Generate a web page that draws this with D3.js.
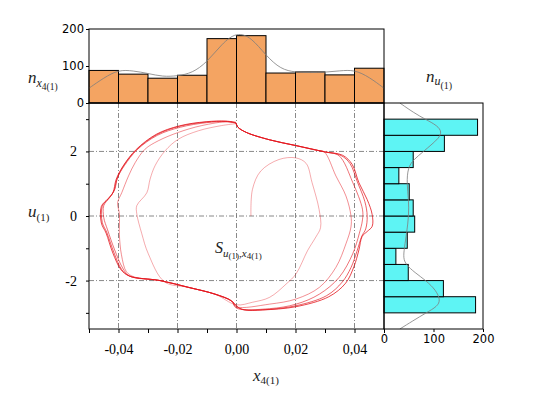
<!DOCTYPE html>
<html>
<head>
<meta charset="utf-8">
<script src="https://cdn.jsdelivr.net/npm/d3@7"></script>
<style>
  body { margin: 0; background: #fff; }
  .serif { font-family: "Liberation Serif", "Times New Roman", serif; }
  .sans { font-family: "DejaVu Sans", Verdana, sans-serif; }
</style>
</head>
<body>
<div id="chart"></div>
<script>
// ---- data ----
const xBinEdges = [-0.05, -0.04, -0.03, -0.02, -0.01, 0, 0.01, 0.02, 0.03, 0.04, 0.05];
const xCounts = [88, 78, 67, 75, 174, 182, 81, 84, 76, 94];
const xDensity = [[-0.05, 40], [-0.045, 68], [-0.04, 90], [-0.035, 87], [-0.03, 80], [-0.025, 71],
  [-0.02, 73], [-0.015, 81], [-0.01, 110], [-0.005, 160], [0, 192], [0.005, 178], [0.01, 128],
  [0.015, 91], [0.02, 83], [0.025, 82], [0.03, 83], [0.035, 87], [0.04, 90], [0.045, 70], [0.05, 40]];

const uBinEdges = [-3, -2.5, -2, -1.5, -1, -0.5, 0, 0.5, 1, 1.5, 2, 2.5, 3];
const uCounts = [185, 120, 49, 24, 47, 62, 59, 51, 30, 59, 122, 189];
const uDensity = [[3.5, 32], [3.2, 60], [3.0, 83], [2.8, 108], [2.6, 117], [2.4, 110], [2.2, 95],
  [2.0, 80], [1.75, 60], [1.5, 48], [1.0, 46], [0.5, 50], [0, 50], [-0.5, 46], [-1.0, 41],
  [-1.3, 39], [-1.5, 44], [-1.75, 62], [-2.0, 85], [-2.3, 105], [-2.6, 114], [-2.8, 108],
  [-3.0, 85], [-3.25, 58], [-3.5, 32]];

const xTicks = [-0.05, -0.04, -0.03, -0.02, -0.01, 0, 0.01, 0.02, 0.03, 0.04, 0.05];
const xTickLabels = [-0.04, -0.02, 0, 0.02, 0.04];
const uTicks = [-3, -2, -1, 0, 1, 2, 3];
const uTickLabels = [-2, 0, 2];
const histTicks = [0, 100, 200];

// trajectory in (x4(1), u(1)), one array per turn, spiralling outwards
const loop0 = [[0.0049, 0], [0.0054, 0.82], [0.0082, 1.39], [0.0144, 1.75], [0.0201, 1.80],
  [0.0236, 1.63], [0.0256, 1.04], [0.028, 0.20], [0.0285, -0.36], [0.0269, -0.65], [0.0241, -1.07],
  [0.0202, -1.79], [0.0168, -2.11], [0.0112, -2.52], [0.0055, -2.67], [-0.0001, -2.75],
  [-0.0073, -2.42], [-0.0163, -2.21], [-0.0244, -2.04], [-0.0299, -1.17], [-0.0321, -0.55],
  [-0.0338, 0.07], [-0.0338, 0.32], [-0.0304, 0.72], [-0.0293, 1.14], [-0.0276, 1.56],
  [-0.0242, 2.02], [-0.0197, 2.38], [-0.0129, 2.64], [-0.0051, 2.80], [-0.0002, 2.86]];
const loop1 = [[-0.0002, 2.86], [0.0005, 2.75], [0.0033, 2.59], [0.0112, 2.36], [0.0202, 2.18],
  [0.0273, 2.03], [0.0297, 1.99], [0.0337, 1.24], [0.0371, 0.62], [0.0388, 0.01], [0.0388, -0.34],
  [0.0371, -0.86], [0.0337, -1.59], [0.0281, -2.21], [0.0202, -2.57], [0.0112, -2.73],
  [-0.0001, -2.81], [-0.0017, -2.63], [-0.0073, -2.42], [-0.0163, -2.21], [-0.0259, -2.00],
  [-0.0346, -1.89], [-0.0373, -1.73], [-0.039, -1.20], [-0.0397, -0.58], [-0.0397, 0.07],
  [-0.0403, 0.41], [-0.0389, 0.72], [-0.0366, 1.24], [-0.0343, 1.66], [-0.031, 2.07],
  [-0.0265, 2.33], [-0.0197, 2.59], [-0.0118, 2.80], [-0.0028, 2.92], [-0.0001, 2.87]];
const loop2 = [[-0.0001, 2.87], [0.0005, 2.75], [0.0033, 2.59], [0.0112, 2.36], [0.0202, 2.18],
  [0.0297, 1.99], [0.0347, 1.87], [0.0394, 1.04], [0.0427, 0.21], [0.0427, -0.12], [0.0416, -0.55],
  [0.0394, -1.17], [0.0348, -1.90], [0.0281, -2.42], [0.0202, -2.73], [0.0112, -2.87],
  [-0.0001, -2.85], [-0.0017, -2.63], [-0.0073, -2.42], [-0.0163, -2.21], [-0.0259, -2.00],
  [-0.0363, -1.86], [-0.0386, -1.61], [-0.0413, -1.05], [-0.0437, -0.43], [-0.045, -0.05],
  [-0.045, 0.32], [-0.043, 0.57], [-0.0413, 0.82], [-0.0403, 1.19], [-0.038, 1.56],
  [-0.0336, 2.06], [-0.0268, 2.50], [-0.019, 2.75], [-0.0102, 2.89], [-0.0035, 2.92], [-0.0002, 2.88]];
const loop3 = [[-0.0002, 2.88], [0.0005, 2.75], [0.0033, 2.59], [0.0112, 2.36], [0.0202, 2.18],
  [0.0297, 1.99], [0.0355, 1.87], [0.0385, 1.62], [0.041, 1.05], [0.0435, 0.45], [0.0443, 0.0],
  [0.0438, -0.40], [0.0425, -0.62], [0.0408, -1.10], [0.0388, -1.60], [0.0358, -2.05],
  [0.0305, -2.47], [0.0201, -2.78], [0.0100, -2.90], [0.0026, -2.90], [-0.0002, -2.80],
  [-0.0017, -2.63], [-0.0073, -2.42], [-0.0163, -2.21], [-0.0259, -2.00], [-0.0363, -1.86],
  [-0.0389, -1.66], [-0.0416, -1.12], [-0.044, -0.50], [-0.0455, -0.20], [-0.0455, 0.30],
  [-0.0434, 0.54], [-0.0416, 0.76], [-0.0405, 1.15], [-0.0383, 1.55], [-0.0338, 2.06],
  [-0.027, 2.52], [-0.0192, 2.78], [-0.0103, 2.91], [-0.0036, 2.93], [-0.0002, 2.89]];
const loop4 = [[-0.0002, 2.89], [0.0005, 2.75], [0.0033, 2.59], [0.0112, 2.36], [0.0202, 2.18],
  [0.0297, 1.99], [0.036, 1.88], [0.0392, 1.60], [0.0415, 1.03], [0.0443, 0.51], [0.046, 0.04],
  [0.046, -0.32], [0.0443, -0.48], [0.0426, -0.63], [0.0415, -1.05], [0.0398, -1.57],
  [0.037, -2.08], [0.0313, -2.50], [0.0201, -2.81], [0.0088, -2.91], [0.0026, -2.91],
  [0.0006, -2.83], [-0.0002, -2.76], [-0.0017, -2.63], [-0.0073, -2.42], [-0.0163, -2.21],
  [-0.0259, -2.00], [-0.0363, -1.86], [-0.0391, -1.67], [-0.0419, -1.15], [-0.0442, -0.53],
  [-0.0458, -0.22], [-0.0458, 0.30], [-0.0436, 0.53], [-0.0419, 0.72], [-0.0408, 1.13],
  [-0.0385, 1.54], [-0.034, 2.06], [-0.0272, 2.53], [-0.0194, 2.79], [-0.0103, 2.92],
  [-0.0036, 2.94], [-0.0002, 2.90]];
const loops = [loop0, loop1, loop2, loop3, loop4];
const loopOpacity = [0.45, 0.6, 0.75, 0.85, 1];

// ---- layout ----
const W = 540, H = 398;
const main = {left: 89, right: 384, top: 103, bottom: 329};
const topH = {top: 29, bottom: 103};
const rightH = {left: 384, right: 483};

const svg = d3.select("#chart").append("svg")
  .attr("width", W).attr("height", H);

const x = d3.scaleLinear().domain([-0.05, 0.05]).range([main.left, main.right]);
const u = d3.scaleLinear().domain([-3.5, 3.5]).range([main.bottom, main.top]);
const nTop = d3.scaleLinear().domain([0, 200]).range([topH.bottom, topH.top]);
const nRight = d3.scaleLinear().domain([0, 200]).range([rightH.left, rightH.right]);

const loc = d3.formatLocale({decimal: ",", thousands: ".", grouping: [3], currency: ["", ""], minus: "-"});
const fmtX = loc.format(".2f");

const defs = svg.append("defs");
defs.append("clipPath").attr("id", "clipTop").append("rect")
  .attr("x", main.left).attr("y", topH.top)
  .attr("width", main.right - main.left).attr("height", topH.bottom - topH.top);
defs.append("clipPath").attr("id", "clipRight").append("rect")
  .attr("x", rightH.left).attr("y", main.top)
  .attr("width", rightH.right - rightH.left).attr("height", main.bottom - main.top);

// ---- grid in main plot ----
const grid = svg.append("g").attr("stroke", "#6b6b6b").attr("stroke-width", 0.8)
  .attr("stroke-dasharray", "5,2,1,2");
grid.selectAll("line.gx").data(xTickLabels).enter().append("line")
  .attr("x1", d => x(d)).attr("x2", d => x(d))
  .attr("y1", main.top).attr("y2", main.bottom);
grid.selectAll("line.gu").data(uTickLabels).enter().append("line")
  .attr("x1", main.left).attr("x2", main.right)
  .attr("y1", d => u(d)).attr("y2", d => u(d));

// ---- trajectory ----
const line = d3.line()
  .x(d => x(d[0])).y(d => u(d[1]))
  .curve(d3.curveCatmullRom.alpha(0.5));
svg.append("g").selectAll("path").data(loops).enter().append("path")
  .attr("d", line)
  .attr("fill", "none")
  .attr("stroke", "#e3141c")
  .attr("stroke-width", 0.8)
  .attr("stroke-opacity", (d, i) => loopOpacity[i]);

// ---- top histogram ----
const topG = svg.append("g");
topG.selectAll("rect").data(xCounts).enter().append("rect")
  .attr("x", (d, i) => x(xBinEdges[i]))
  .attr("width", (d, i) => x(xBinEdges[i + 1]) - x(xBinEdges[i]))
  .attr("y", d => nTop(d))
  .attr("height", d => nTop(0) - nTop(d))
  .attr("fill", "#f4a462")
  .attr("stroke", "#000").attr("stroke-width", 1);
topG.append("path")
  .datum(xDensity)
  .attr("clip-path", "url(#clipTop)")
  .attr("d", d3.line().x(d => x(d[0])).y(d => nTop(d[1])).curve(d3.curveBasis))
  .attr("fill", "none").attr("stroke", "#7d7d7d").attr("stroke-width", 0.8);

// ---- right histogram ----
const rightG = svg.append("g");
rightG.selectAll("rect").data(uCounts).enter().append("rect")
  .attr("x", nRight(0))
  .attr("width", d => nRight(d) - nRight(0))
  .attr("y", (d, i) => u(uBinEdges[i + 1]))
  .attr("height", (d, i) => u(uBinEdges[i]) - u(uBinEdges[i + 1]))
  .attr("fill", "#5ef4f4")
  .attr("stroke", "#000").attr("stroke-width", 1);
rightG.append("path")
  .datum(uDensity)
  .attr("clip-path", "url(#clipRight)")
  .attr("d", d3.line().x(d => nRight(d[1])).y(d => u(d[0])).curve(d3.curveBasis))
  .attr("fill", "none").attr("stroke", "#7d7d7d").attr("stroke-width", 0.8);

// ---- frames ----
const frames = svg.append("g").attr("fill", "none").attr("stroke", "#000").attr("stroke-width", 1);
frames.append("rect").attr("x", main.left).attr("y", topH.top)
  .attr("width", main.right - main.left).attr("height", topH.bottom - topH.top);
frames.append("rect").attr("x", main.left).attr("y", main.top)
  .attr("width", main.right - main.left).attr("height", main.bottom - main.top);
frames.append("rect").attr("x", rightH.left).attr("y", main.top)
  .attr("width", rightH.right - rightH.left).attr("height", main.bottom - main.top);

// ---- axes ----
const xAxis = svg.append("g")
  .attr("transform", `translate(0,${main.bottom})`)
  .call(d3.axisBottom(x).tickValues(xTicks).tickSize(4).tickPadding(11)
    .tickFormat(d => xTickLabels.some(v => Math.abs(v - d) < 1e-9) ? fmtX(d) : ""));
xAxis.select(".domain").remove();
xAxis.selectAll("text").attr("class", "serif").attr("font-size", 14).attr("font-family", null);

const uAxis = svg.append("g")
  .attr("transform", `translate(${main.left},0)`)
  .call(d3.axisLeft(u).tickValues(uTicks).tickSize(3).tickPadding(9)
    .tickFormat(d => uTickLabels.includes(d) ? String(d) : ""));
uAxis.select(".domain").remove();
uAxis.selectAll("text").attr("class", "serif").attr("font-size", 14).attr("font-family", null);

const topAxis = svg.append("g")
  .attr("transform", `translate(${main.left},0)`)
  .call(d3.axisLeft(nTop).tickValues(histTicks).tickSize(3).tickPadding(2).tickFormat(d3.format("d")));
topAxis.select(".domain").remove();
topAxis.selectAll("text").attr("class", "sans").attr("font-size", 11.5).attr("font-family", null);

const rightAxis = svg.append("g")
  .attr("transform", `translate(0,${main.bottom})`)
  .call(d3.axisBottom(nRight).tickValues(histTicks).tickSize(3).tickPadding(3).tickFormat(d3.format("d")));
rightAxis.select(".domain").remove();
rightAxis.selectAll("text").attr("class", "sans").attr("font-size", 11.5).attr("font-family", null);

// ---- axis titles ----
function subLabel(g, px, py, parts) {
  const t = g.append("text").attr("class", "serif").attr("x", px).attr("y", py).attr("fill", "#222");
  parts.forEach(p => {
    t.append("tspan").text(p.t)
      .attr("font-size", p.s)
      .attr("font-style", p.i ? "italic" : "normal")
      .attr("dy", p.dy || 0);
  });
}
subLabel(svg, 28, 83, [
  {t: "n", s: 17, i: true},
  {t: "x", s: 12, i: true, dy: 4},
  {t: "4(1)", s: 9.5, dy: 3}
]);
subLabel(svg, 426, 82, [
  {t: "n", s: 17, i: true},
  {t: "u", s: 12, i: true, dy: 3},
  {t: "(1)", s: 10, dy: 4}
]);
subLabel(svg, 28, 217, [
  {t: "u", s: 17, i: true},
  {t: "(1)", s: 11, dy: 4}
]);
subLabel(svg, 253, 381, [
  {t: "x", s: 17, i: true},
  {t: "4(1)", s: 11, dy: 3}
]);
subLabel(svg, 215, 253, [
  {t: "S", s: 16, i: true},
  {t: "u", s: 11, i: true, dy: 4},
  {t: "(1)", s: 9, dy: 2},
  {t: ",", s: 11, dy: -2},
  {t: "x", s: 11, i: true},
  {t: "4(1)", s: 9, dy: 2}
]);
</script>
</body>
</html>
